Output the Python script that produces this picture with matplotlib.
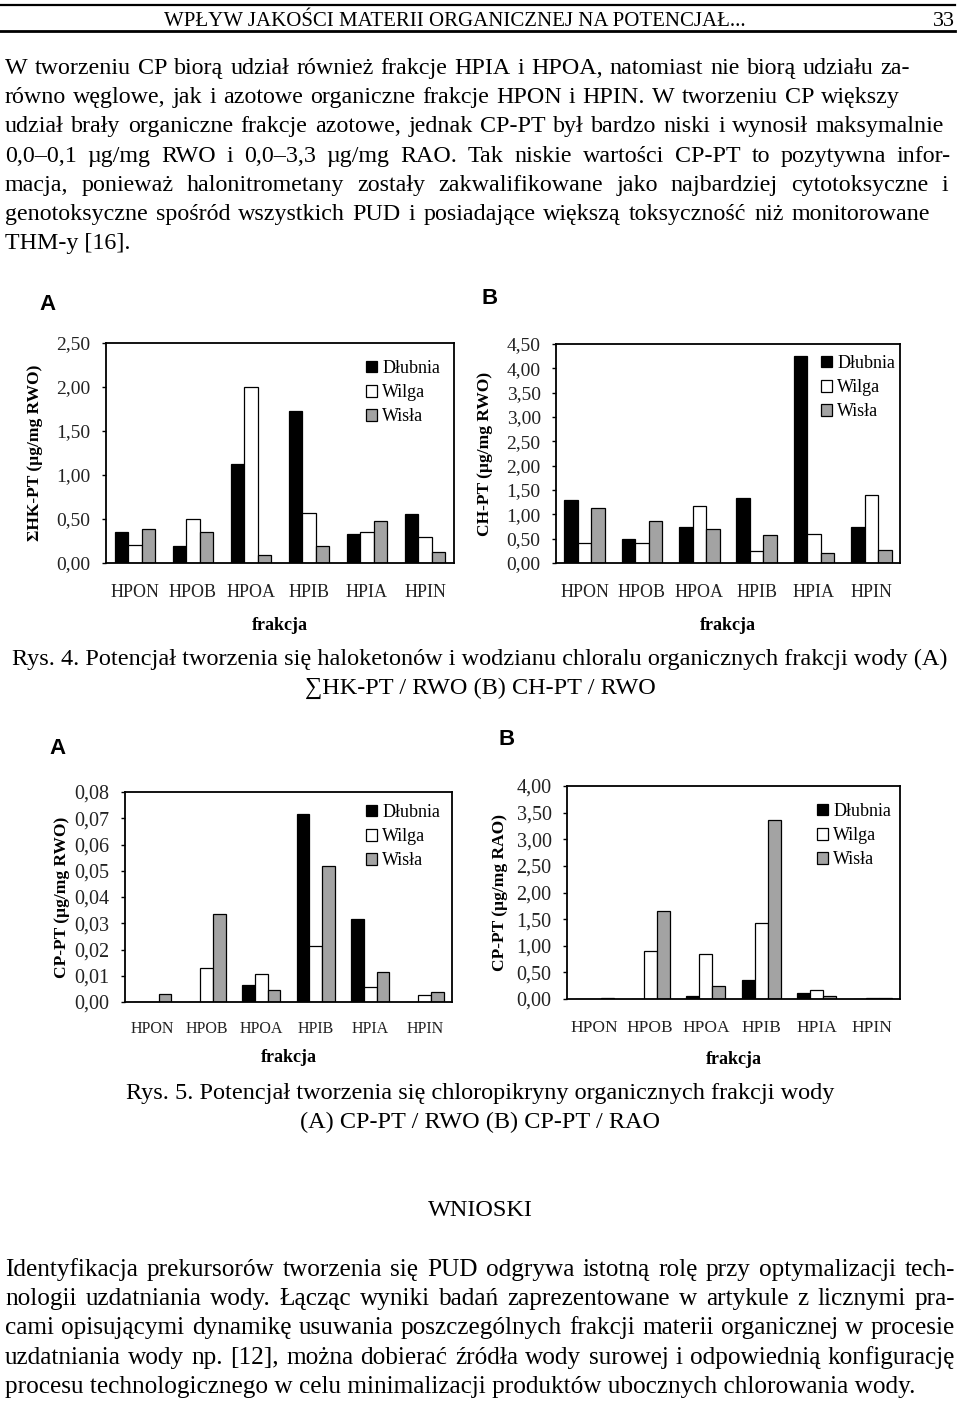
import numpy as np
import matplotlib
matplotlib.use('Agg')
import matplotlib.pyplot as plt
from matplotlib.ticker import FuncFormatter, MultipleLocator
from matplotlib.lines import Line2D

# data (values per fraction, rivers Dłubnia / Wilga / Wisła)
fractions = ['HPON', 'HPOB', 'HPOA', 'HPIB', 'HPIA', 'HPIN']
rivers = ['Dłubnia', 'Wilga', 'Wisła']

hk_rwo_dlubnia = [0.35, 0.19, 1.13, 1.73, 0.33, 0.56]
hk_rwo_wilga = [0.21, 0.50, 2.00, 0.57, 0.35, 0.29]
hk_rwo_wisla = [0.39, 0.35, 0.09, 0.19, 0.48, 0.12]

ch_rwo_dlubnia = [1.30, 0.49, 0.74, 1.33, 4.25, 0.75]
ch_rwo_wilga = [0.41, 0.41, 1.18, 0.25, 0.60, 1.40]
ch_rwo_wisla = [1.13, 0.86, 0.69, 0.58, 0.21, 0.26]

cp_rwo_dlubnia = [0.0, 0.0, 0.0063, 0.0716, 0.0315, 0.0]
cp_rwo_wilga = [0.0, 0.0130, 0.0108, 0.0213, 0.0057, 0.0025]
cp_rwo_wisla = [0.0032, 0.0335, 0.0044, 0.0517, 0.0114, 0.0038]

cp_rao_dlubnia = [0.0, 0.0, 0.06, 0.36, 0.11, 0.0]
cp_rao_wilga = [0.0, 0.90, 0.84, 1.42, 0.17, 0.01]
cp_rao_wisla = [0.02, 1.65, 0.24, 3.36, 0.06, 0.01]

header = 'WPŁYW JAKOŚCI MATERII ORGANICZNEJ NA POTENCJAŁ...'
page_no = '33'
para1 = [
    'W tworzeniu CP biorą udział również frakcje HPIA i HPOA, natomiast nie biorą udziału za-',
    'równo węglowe, jak i azotowe organiczne frakcje HPON i HPIN. W tworzeniu CP większy',
    'udział brały organiczne frakcje azotowe, jednak CP-PT był bardzo niski i wynosił maksymalnie',
    '0,0–0,1 µg/mg RWO i 0,0–3,3 µg/mg RAO. Tak niskie wartości CP-PT to pozytywna infor-',
    'macja, ponieważ halonitrometany zostały zakwalifikowane jako najbardziej cytotoksyczne i',
    'genotoksyczne spośród wszystkich PUD i posiadające większą toksyczność niż monitorowane',
    'THM-y [16].',
]
cap4 = ['Rys. 4. Potencjał tworzenia się haloketonów i wodzianu chloralu organicznych frakcji wody (A)',
        '∑HK-PT / RWO (B) CH-PT / RWO']
cap5 = ['Rys. 5. Potencjał tworzenia się chloropikryny organicznych frakcji wody',
        '(A) CP-PT / RWO (B) CP-PT / RAO']
section = 'WNIOSKI'
para2 = [
    'Identyfikacja prekursorów tworzenia się PUD odgrywa istotną rolę przy optymalizacji tech-',
    'nologii uzdatniania wody. Łącząc wyniki badań zaprezentowane w artykule z licznymi pra-',
    'cami opisującymi dynamikę usuwania poszczególnych frakcji materii organicznej w procesie',
    'uzdatniania wody np. [12], można dobierać źródła wody surowej i odpowiednią konfigurację',
    'procesu technologicznego w celu minimalizacji produktów ubocznych chlorowania wody.',
]

W, H = 960, 1401
serif = ['Liberation Serif', 'DejaVu Serif']
sans = 'Liberation Sans'
colors = ['black', 'white', '#a3a3a3']

fig = plt.figure(figsize=(9.6, 14.01), dpi=100)
fig.patch.set_facecolor('white')


def fx(x):
    return x / W


def fy(y):
    return 1 - y / H


def comma(v, p):
    return f'{v:.2f}'.replace('.', ',')


def bar_chart(box, data, ymax, ystep, ylabel, letter, letter_xy, leg_xy, xlab_y, ylab_x, xfs, yfs, xpad):
    l, r, t, b = box
    ax = fig.add_axes([fx(l), fy(b), (r - l) / W, (b - t) / H])
    x = np.arange(len(fractions))
    w = 0.235
    for i, vals in enumerate(data):
        ax.bar(x + (i - 1) * w, vals, w, color=colors[i], edgecolor='black',
               linewidth=0.9, label=rivers[i])
    ax.set_xlim(-0.5, len(fractions) - 0.5)
    ax.set_ylim(0, ymax)
    ax.yaxis.set_major_locator(MultipleLocator(ystep))
    ax.yaxis.set_major_formatter(FuncFormatter(comma))
    ax.set_xticks(x, fractions)
    for s in ax.spines.values():
        s.set_linewidth(1.3)
    ax.tick_params(axis='x', length=0, pad=xpad, labelsize=xfs)
    ax.tick_params(axis='y', length=3, width=1, pad=8, labelsize=yfs)
    for lab in ax.get_xticklabels() + ax.get_yticklabels():
        lab.set_family(serif)
        lab.set_color('#222222')
    ax.set_ylabel(ylabel, family=serif, weight='bold', fontsize=12.5)
    ax.yaxis.set_label_coords((ylab_x - l) / (r - l), 0.5)
    ax.yaxis.label.set_va('center')
    ax.set_xlabel('frakcja', family=serif, weight='bold', fontsize=13)
    ax.xaxis.set_label_coords(0.5, -(xlab_y - b) / (b - t))
    ax.xaxis.label.set_va('center')
    ax.legend(loc='upper left', bbox_to_anchor=(fx(leg_xy[0]), fy(leg_xy[1])),
              bbox_transform=fig.transFigure, frameon=False,
              prop={'family': serif, 'size': 13}, handlelength=0.6,
              handleheight=0.6, handletextpad=0.3, labelspacing=0.4,
              borderpad=0, borderaxespad=0)
    fig.text(fx(letter_xy[0]), fy(letter_xy[1]), letter, family=sans, weight='bold',
             fontsize=16, ha='center', va='center')
    return ax


bar_chart((106, 454, 343, 563), [hk_rwo_dlubnia, hk_rwo_wilga, hk_rwo_wisla],
          2.5, 0.5, 'ΣHK-PT (µg/mg RWO)', 'A', (48, 305), (366, 360), 626, 35, 13, 14, 15)
bar_chart((556, 900, 344, 563), [ch_rwo_dlubnia, ch_rwo_wilga, ch_rwo_wisla],
          4.5, 0.5, 'CH-PT (µg/mg RWO)', 'B', (490, 298), (821, 355), 626, 485, 13, 14, 15)
bar_chart((125, 452, 792, 1002), [cp_rwo_dlubnia, cp_rwo_wilga, cp_rwo_wisla],
          0.08, 0.01, 'CP-PT (µg/mg RWO)', 'A', (57, 748), (366, 804), 1058, 62, 11.5, 14.5, 14)
bar_chart((567, 900, 786, 999), [cp_rao_dlubnia, cp_rao_wilga, cp_rao_wisla],
          4.0, 0.5, 'CP-PT (µg/mg RAO)', 'B', (507, 740), (817, 803), 1060, 500, 12.5, 14.5, 15)

# page text
renderer = fig.canvas.get_renderer()


def natural_width(line, size):
    t = fig.text(0, 0, line, family=serif, fontsize=size)
    wd = t.get_window_extent(renderer).width
    t.remove()
    return wd


def fit_size(lines, targets, max_size):
    # largest size (<= max_size) where every line still fits its width
    return min([max_size] + [10 * tw / natural_width(ln, 10) for ln, tw in zip(lines, targets)])


def justify(line, x0, x1, yb, size):
    words = line.split(' ')
    arts = [fig.text(0, fy(yb), wd, family=serif, fontsize=size, va='baseline') for wd in words]
    widths = [a.get_window_extent(renderer).width for a in arts]
    gap = (x1 - x0 - sum(widths)) / (len(words) - 1)
    pos = x0
    for a, wd in zip(arts, widths):
        a.set_x(fx(pos))
        pos += wd + gap


fig.add_artist(Line2D([0, fx(955)], [fy(5), fy(5)], lw=1.6, color='black'))
fig.add_artist(Line2D([0, fx(955)], [fy(31), fy(31)], lw=2.0, color='black'))
fig.text(fx(455), fy(26), header, family=serif, fontsize=15, ha='center', va='baseline')
fig.text(fx(955), fy(26), page_no, family=serif, fontsize=16, ha='right', va='baseline')

ends1 = [910, 900, 944, 951, 948, 930]
size1 = fit_size(para1[:-1], [0.98 * (e - 5) for e in ends1], 17.5)
for i, line in enumerate(para1):
    yb = 74 + i * 29.2
    if i < len(ends1):
        justify(line, 5, ends1[i], yb, size1)
    else:
        fig.text(fx(5), fy(yb), line, family=serif, fontsize=size1, va='baseline')

cs = 17.5
fig.text(fx(480), fy(665), cap4[0], family=serif, fontsize=cs, ha='center', va='baseline')
fig.text(fx(480), fy(694), cap4[1], family=serif, fontsize=cs, ha='center', va='baseline')
fig.text(fx(480), fy(1099), cap5[0], family=serif, fontsize=cs, ha='center', va='baseline')
fig.text(fx(480), fy(1128), cap5[1], family=serif, fontsize=cs, ha='center', va='baseline')
fig.text(fx(480), fy(1216), section, family=serif, fontsize=cs, ha='center', va='baseline')

size2 = fit_size(para2, [945, 945, 945, 945, 926], 18.5)
for i, line in enumerate(para2):
    yb = 1276 + i * 29.2
    if i < len(para2) - 1:
        justify(line, 5, 955, yb, size2)
    else:
        fig.text(fx(5), fy(yb), line, family=serif, fontsize=size2, va='baseline')

fig.savefig('out.png', dpi=100, facecolor='white')
